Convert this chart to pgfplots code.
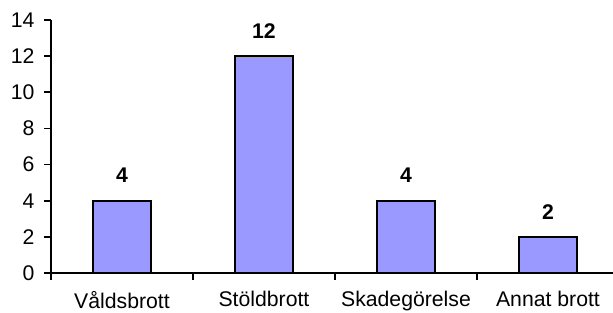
\documentclass[border=0pt]{standalone}
\usepackage{fontspec}
\setmainfont{Liberation Sans}
\usepackage{pgfplots}
\pgfplotsset{compat=1.18}
\definecolor{barc}{HTML}{9999FF}
\begin{document}
\begin{tikzpicture}
\useasboundingbox (-51bp,-40bp) rectangle (562bp,273bp);
\begin{axis}[
  at={(0,0)}, anchor=south west,
  scale only axis, width=562bp, height=253bp,
  xmin=-0.5, xmax=3.458, ymin=0, ymax=14,
  axis x line*=bottom, axis y line*=left,
  axis line style={-, line width=1.6bp},
  every tick/.style={black, line width=1.6bp},
  tick align=outside, major tick length=7bp,
  ytick={0,2,...,14},
  yticklabel style={xshift=-6bp},
  xtick={-0.5,0.5,1.5,2.5}, xticklabels={},
  extra x ticks={0,1,2,3},
  extra x tick labels={Våldsbrott,Stöldbrott,Skadegörelse,Annat brott},
  extra x tick style={major tick length=0pt, tick label style={yshift=-15bp}},
  tick label style={font=\fontsize{21.3}{24}\selectfont},
  /pgf/number format/assume math mode=true,
  ybar, bar width=0.41,
  nodes near coords,
  nodes near coords style={font=\fontsize{21.3}{24}\selectfont\bfseries, anchor=south, inner sep=0pt, yshift=17bp},
]
\addplot[draw=black, line width=1.6bp, fill=barc] coordinates {(0,4) (1,12) (2,4) (3,2)};
\end{axis}
\end{tikzpicture}
\end{document}
